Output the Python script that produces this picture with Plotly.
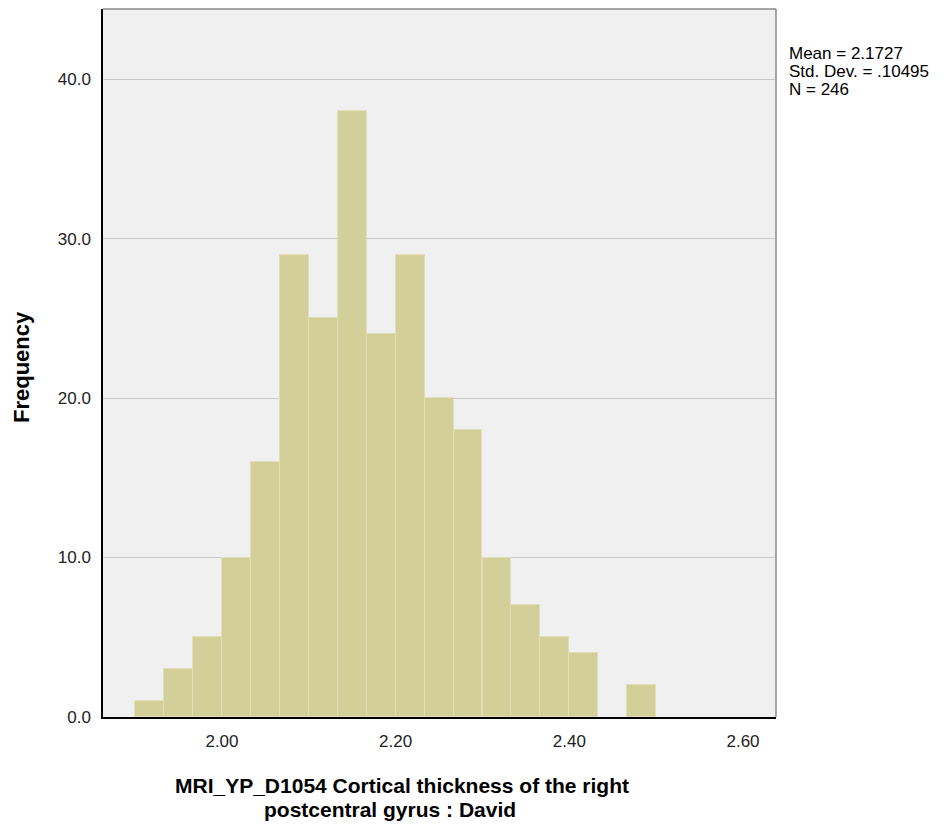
import plotly.graph_objects as go

# bin centres (width 1/30) and frequencies
bin_centers = [1.9167, 1.9500, 1.9833, 2.0167, 2.0500, 2.0833, 2.1167, 2.1500, 2.1833,
               2.2167, 2.2500, 2.2833, 2.3167, 2.3500, 2.3833, 2.4167, 2.4500, 2.4833]
counts = [1, 3, 5, 10, 16, 29, 25, 38, 24, 29, 20, 18, 10, 7, 5, 4, 0, 2]
bin_width = 1 / 30

x_ticks = [2.0, 2.2, 2.4, 2.6]
y_ticks = [0, 10, 20, 30, 40]

stats_lines = ["Mean = 2.1727", "Std. Dev. = .10495", "N = 246"]
x_title_lines = ["MRI_YP_D1054 Cortical thickness of the right", "postcentral gyrus : David"]
y_title = "Frequency"

FONT = "Liberation Sans, Arial"

# hide the outline of empty bins
edge_colors = ["#E2DFB8" if c > 0 else "rgba(0,0,0,0)" for c in counts]

fig = go.Figure()
fig.add_trace(go.Bar(
    x=bin_centers,
    y=counts,
    width=[bin_width] * len(counts),
    marker=dict(color="#D3CF98", line=dict(color=edge_colors, width=1)),
    showlegend=False,
))

# the page body adds an 8px offset, so the figure is 8px smaller
fig.update_layout(
    width=936, height=821,
    margin=dict(l=95, r=168, t=1, b=112),
    paper_bgcolor="white",
    plot_bgcolor="#F0F0F0",
    font=dict(family=FONT, size=17, color="#222222"),
    bargap=0,
)

fig.update_xaxes(
    range=[1.863, 2.638],
    tickvals=x_ticks,
    tickformat=".2f",
    showgrid=False, zeroline=False,
    showline=True, linecolor="black", linewidth=1.5,
    ticks="outside", ticklen=8, tickcolor="rgba(0,0,0,0)",
    tickfont=dict(size=17, color="#222222"),
)
fig.update_yaxes(
    range=[0, 44.4],
    tickvals=y_ticks,
    tickformat=".1f",
    showgrid=True, gridcolor="#C9C9C9", gridwidth=1,
    zeroline=False,
    showline=True, linecolor="black", linewidth=1.5,
    ticks="outside", ticklen=7, tickcolor="rgba(0,0,0,0)",
    tickfont=dict(size=17, color="#222222"),
)

# top and right frame in grey
fig.add_shape(type="line", xref="paper", yref="paper", x0=0, x1=1, y0=1, y1=1,
              line=dict(color="#8A8A8A", width=1.5))
fig.add_shape(type="line", xref="paper", yref="paper", x0=1, x1=1, y0=0, y1=1,
              line=dict(color="#8A8A8A", width=1.5))

# statistics box text, right of the plot
for i, line in enumerate(stats_lines):
    fig.add_annotation(
        text=line, xref="paper", yref="paper", x=1, y=1,
        xshift=11, yshift=-44 - 18.3 * i,
        xanchor="left", yanchor="middle", showarrow=False, align="left",
        font=dict(size=17, color="black", family=FONT),
    )

# axis titles
fig.add_annotation(
    text="<b>" + y_title + "</b>", xref="paper", yref="paper", x=0, y=0.5,
    xshift=-82, yshift=-4, textangle=-90, xanchor="center", yanchor="middle",
    showarrow=False, font=dict(size=22, color="black", family=FONT),
)
title_centers = [(-0.055, -68), (-0.073, -92)]
for line, (xs, ys) in zip(x_title_lines, title_centers):
    fig.add_annotation(
        text="<b>" + line + "</b>", xref="paper", yref="paper", x=0.5 + xs, y=0,
        yshift=ys, xanchor="center", yanchor="middle", showarrow=False,
        font=dict(size=21, color="black", family=FONT),
    )

fig.write_html("out.html")
